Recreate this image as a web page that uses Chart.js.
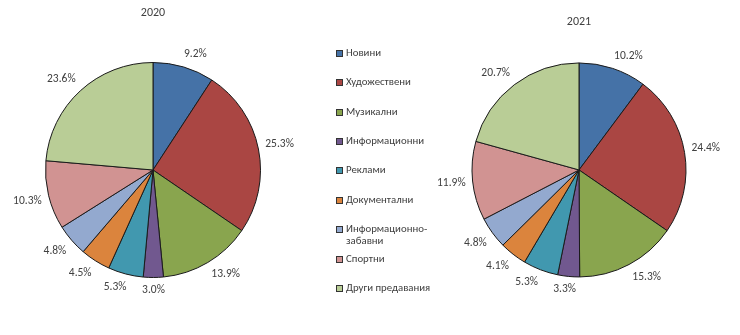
<!DOCTYPE html>
<html>
<head>
<meta charset="utf-8">
<script src="https://cdn.jsdelivr.net/npm/chart.js@4"></script>
<style>
    html, body { margin: 0; padding: 0; background: #fff; }
    #wrap { position: relative; width: 740px; height: 335px; overflow: hidden; font-family: Carlito, Lato, sans-serif; }
    .pie { position: absolute; top: 0; height: 335px; }
    #legend { position: absolute; left: 336px; top: 0; width: 110px; }
    .item { position: absolute; left: 0; display: flex; align-items: flex-start; font-size: 10.8px; line-height: 12px; color: #404040; }
    .item span.box { width: 5px; height: 5px; border: 1px solid #333; margin-top: 3px; margin-right: 3px; flex: none; }
    .item span.txt { width: 95px; }
</style>
</head>
<body>
<div id="wrap">
    <div class="pie" style="left:0;width:306px"><canvas id="chart2020"></canvas></div>
    <div class="pie" style="left:429px;width:300px"><canvas id="chart2021"></canvas></div>
    <div id="legend"></div>
</div>
<script>
(function () {
    "use strict";

    // Data
    const categories = [
        "Новини",
        "Художествени",
        "Музикални",
        "Информационни",
        "Реклами",
        "Документални",
        "Информационно-забавни",
        "Спортни",
        "Други предавания",
    ];
    const values2020 = [9.2, 25.3, 13.9, 3.0, 5.3, 4.5, 4.8, 10.3, 23.6];
    const values2021 = [10.2, 24.4, 15.3, 3.3, 5.3, 4.1, 4.8, 11.9, 20.7];

    const colors = [
        "#4572A7", "#AA4643", "#89A54E", "#71588F", "#4198AF",
        "#DB843D", "#93A9CF", "#D19392", "#B9CD96",
    ];
    const textColor = "#404040";
    const fontFamily = "Carlito, Lato, sans-serif";

    // percent labels just outside each slice
    const outsideLabels = {
        id: "outsideLabels",
        afterDatasetsDraw(chart) {
            const ctx = chart.ctx;
            const meta = chart.getDatasetMeta(0);
            const data = chart.data.datasets[0].data;
            const clamp = (v) => Math.max(-1, Math.min(1, v));
            ctx.save();
            ctx.font = "11.5px " + fontFamily;
            ctx.fillStyle = textColor;
            ctx.textAlign = "center";
            ctx.textBaseline = "middle";
            meta.data.forEach((arc, i) => {
                const p = arc.getProps(["x", "y", "startAngle", "endAngle", "outerRadius"], true);
                const mid = (p.startAngle + p.endAngle) / 2;
                const c = Math.cos(mid), s = Math.sin(mid);
                const label = data[i].toFixed(1) + "%";
                const w = ctx.measureText(label).width;
                const h = 12;
                const r = p.outerRadius + 7;
                const x = p.x + r * c + (w / 2) * clamp(3 * c);
                const y = p.y + r * s + (h / 2) * clamp(3 * s);
                ctx.fillText(label, x, y);
            });
            ctx.restore();
        },
    };

    function makePie(id, title, values, titlePad, padding) {
        const ctx = document.getElementById(id).getContext("2d");
        return new Chart(ctx, {
            type: "pie",
            data: {
                labels: categories,
                datasets: [
                    {
                        data: values,
                        backgroundColor: colors,
                        borderColor: "#1a1a1a",
                        borderWidth: 1,
                    },
                ],
            },
            options: {
                responsive: true,
                maintainAspectRatio: false,
                animation: false,
                layout: { padding: padding },
                plugins: {
                    legend: { display: false },
                    tooltip: { enabled: false },
                    title: {
                        display: true,
                        text: title,
                        color: textColor,
                        font: { family: fontFamily, size: 12, weight: "normal" },
                        padding: titlePad,
                    },
                },
            },
            plugins: [outsideLabels],
        });
    }

    makePie("chart2020", "2020", values2020,
        { top: 6, bottom: 41.6 }, { top: 0, left: 45, right: 45, bottom: 57 });
    makePie("chart2021", "2021", values2021,
        { top: 15, bottom: 33 }, { top: 0, left: 42.5, right: 42.5, bottom: 57.5 });

    // Legend
    const legend = document.getElementById("legend");
    categories.forEach((name, i) => {
        const item = document.createElement("div");
        item.className = "item";
        item.style.top = (52.7 + i * 29.4 - 6) + "px";
        const box = document.createElement("span");
        box.className = "box";
        box.style.background = colors[i];
        const txt = document.createElement("span");
        txt.className = "txt";
        txt.textContent = name === "Информационно-забавни" ? "Информационно-\u200bзабавни" : name;
        if (name === "Информационно-забавни") txt.style.width = "80px";
        item.appendChild(box);
        item.appendChild(txt);
        legend.appendChild(item);
    });
})();
</script>
</body>
</html>
